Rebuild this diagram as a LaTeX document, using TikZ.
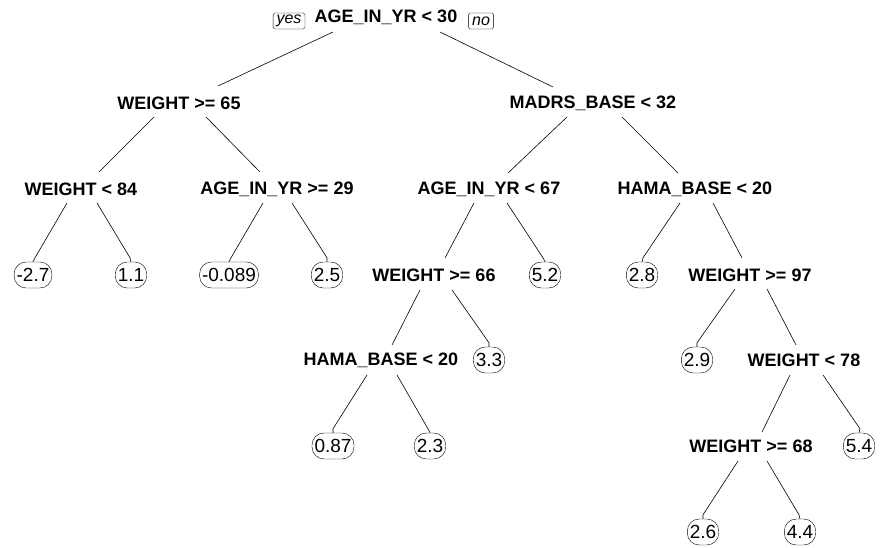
\documentclass[tikz,border=0pt]{standalone}
\usepackage{fontspec}
\setmainfont{Liberation Sans}
\usetikzlibrary{calc}
\begin{document}
\begin{tikzpicture}[x=1pt,y=-1pt,
 split/.style={font=\fontsize{18}{18}\selectfont\bfseries, inner sep=0pt},
 leaf/.style={draw, rounded corners=12pt, font=\fontsize{19}{19}\selectfont, inner xsep=2.5pt, inner ysep=0pt, minimum height=26pt},
 yn/.style={draw, font=\fontsize{16}{16}\selectfont\itshape, inner xsep=3.5pt, inner ysep=0pt, minimum height=16pt, rounded corners=1.5pt},
 br/.style={line width=0.6pt}]
\useasboundingbox (0,0) rectangle (881,548);
% split nodes
\node[split] (r) at (386,17) {AGE\_IN\_YR < 30};
\node[yn] (yes) at (289,21) {yes};
\node[yn] (no) at (481,21) {no};
\node[split] (w65) at (179,103) {WEIGHT >= 65};
\node[split] (mad) at (593,103) {MADRS\_BASE < 32};
\node[split] (w84) at (81,189) {WEIGHT < 84};
\node[split] (a29) at (277,189) {AGE\_IN\_YR >= 29};
\node[split] (a67) at (489,189) {AGE\_IN\_YR < 67};
\node[split] (h20a) at (695,189) {HAMA\_BASE < 20};
\node[split] (w66) at (434,275) {WEIGHT >= 66};
\node[split] (w97) at (750,275) {WEIGHT >= 97};
\node[split] (h20b) at (381,360) {HAMA\_BASE < 20};
\node[split] (w78) at (804,360) {WEIGHT < 78};
\node[split] (w68) at (751,446) {WEIGHT >= 68};
% leaves
\node[leaf] (l1) at (33,275) {-2.7};
\node[leaf] (l2) at (131,275) {1.1};
\node[leaf] (l3) at (229,275) {-0.089};
\node[leaf] (l4) at (327,275) {2.5};
\node[leaf] (l5) at (545,275) {5.2};
\node[leaf] (l6) at (642,275) {2.8};
\node[leaf] (l7) at (489,360) {3.3};
\node[leaf] (l8) at (697,360) {2.9};
\node[leaf] (l9) at (333,446) {0.87};
\node[leaf] (l10) at (430,446) {2.3};
\node[leaf] (l11) at (859,446) {5.4};
\node[leaf] (l12) at (703,532) {2.6};
\node[leaf] (l13) at (800,532) {4.4};
% branches to split nodes
\draw[br] ($(r)+(-53,15)$) -- ($(w65)+(39,-17)$);
\draw[br] ($(r)+(54,15)$) -- ($(mad)+(-40,-16)$);
\draw[br] ($(w65)+(-25,14)$) -- ($(w84)+(18,-17)$);
\draw[br] ($(w65)+(27,14)$) -- ($(a29)+(-17,-17)$);
\draw[br] ($(mad)+(-26,14)$) -- ($(a67)+(19,-16)$);
\draw[br] ($(mad)+(29,14)$) -- ($(h20a)+(-17,-16)$);
\draw[br] ($(a67)+(-15,14)$) -- ($(w66)+(11,-17)$);
\draw[br] ($(h20a)+(18,14)$) -- ($(w97)+(-8,-17)$);
\draw[br] ($(w66)+(-14,15)$) -- ($(h20b)+(11,-15)$);
\draw[br] ($(w97)+(17,14)$) -- ($(w78)+(-8,-15)$);
\draw[br] ($(w78)+(-14,15)$) -- ($(w68)+(11,-14)$);
% branches to leaves
\draw[br] ($(w84)+(-14,14)$) -- ($(l1.north)+(2,-4)$) -- (l1.north);
\draw[br] ($(w84)+(16,14)$) -- ($(l2.north)+(-1,-4)$) -- (l2.north);
\draw[br] ($(a29)+(-14,14)$) -- ($(l3.north)+(2,-4)$) -- (l3.north);
\draw[br] ($(a29)+(15,14)$) -- ($(l4.north)+(0,-4)$) -- (l4.north);
\draw[br] ($(a67)+(18,14)$) -- ($(l5.north)+(-2,-4)$) -- (l5.north);
\draw[br] ($(h20a)+(-15,14)$) -- ($(l6.north)+(1,-4)$) -- (l6.north);
\draw[br] ($(w66)+(18,15)$) -- ($(l7.north)+(0,-4)$) -- (l7.north);
\draw[br] ($(w97)+(-15,14)$) -- ($(l8.north)+(0,-4)$) -- (l8.north);
\draw[br] ($(h20b)+(-14,15)$) -- ($(l9.north)+(0,-4)$) -- (l9.north);
\draw[br] ($(h20b)+(16,15)$) -- ($(l10.north)+(-2,-4)$) -- (l10.north);
\draw[br] ($(w78)+(19,15)$) -- ($(l11.north)+(1,-4)$) -- (l11.north);
\draw[br] ($(w68)+(-13,15)$) -- ($(l12.north)+(0,-4)$) -- (l12.north);
\draw[br] ($(w68)+(16,15)$) -- ($(l13.north)+(-1,-4)$) -- (l13.north);
\end{tikzpicture}
\end{document}
